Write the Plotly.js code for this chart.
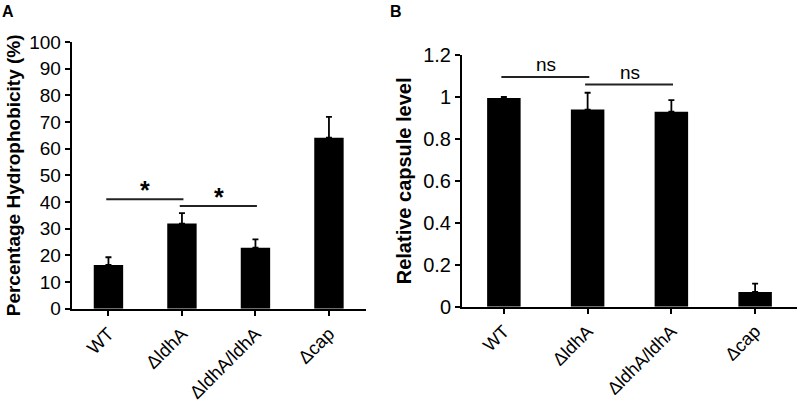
<!DOCTYPE html>
<html>
<head>
<meta charset="utf-8">
<script src="https://cdn.plot.ly/plotly-3.0.1.min.js"></script>
<style>html,body{margin:0;padding:0;background:#fff;}#chart{width:800px;height:402px;}</style>
</head>
<body>
<div id="chart"></div>
<script>
// ---- data ----
const categories = ['WT', 'ΔldhA', 'ΔldhA/ldhA', 'Δcap'];
const hydrophobicity = [16.4, 31.9, 22.9, 64.1];
const hydrophobicityErr = [2.9, 3.9, 3.1, 7.8];
const capsule = [0.995, 0.94, 0.93, 0.07];
const capsuleErr = [0.005, 0.08, 0.055, 0.04];
// significance brackets: [fromIndex, toIndex, yValue, label]
const sigA = [[0, 1, 41, '*'], [1, 2, 38.5, '*']];
const sigB = [[0, 1, 1.095, 'ns'], [1, 2, 1.059, 'ns']];

const FONT = 'Liberation Sans, Arial, Helvetica, sans-serif';
const idx = categories.map((c, i) => i);

const traces = [
  {
    type: 'bar', x: idx, y: hydrophobicity, xaxis: 'x', yaxis: 'y',
    marker: {color: '#000'},
    error_y: {type: 'data', symmetric: false, array: hydrophobicityErr,
              arrayminus: hydrophobicityErr.map(() => 0), color: '#000', thickness: 1.8, width: 3},
    hoverinfo: 'y', showlegend: false
  },
  {
    type: 'bar', x: idx, y: capsule, xaxis: 'x2', yaxis: 'y2',
    marker: {color: '#000'},
    error_y: {type: 'data', symmetric: false, array: capsuleErr,
              arrayminus: capsuleErr.map(() => 0), color: '#000', thickness: 1.8, width: 3},
    hoverinfo: 'y', showlegend: false
  }
];

const xCommon = {
  range: [-0.5, 3.5], tickmode: 'array', tickvals: idx, ticktext: categories,
  tickangle: -45, showline: true, linecolor: '#000', linewidth: 2,
  ticks: 'outside', ticklen: 5, tickwidth: 2, tickcolor: '#000',
  showgrid: false, zeroline: false, fixedrange: true
};
const yCommon = {
  showline: true, linecolor: '#000', linewidth: 2,
  ticks: 'outside', ticklen: 5, tickwidth: 2, tickcolor: '#000',
  showgrid: false, zeroline: false, fixedrange: true
};

const shapes = [];
const annotations = [];
function addSig(list, xref, yref, fontSize, bold) {
  list.forEach(([a, b, yv, label]) => {
    shapes.push({type: 'line', xref: xref, yref: yref, x0: a - 0.03, x1: b + 0.02, y0: yv, y1: yv,
                 line: {color: '#222', width: 2}});
    annotations.push({xref: xref, yref: yref, x: (a + b) / 2, y: yv, text: bold ? '<b>' + label + '</b>' : label,
                      showarrow: false, yanchor: 'bottom', yshift: bold ? -7 : 0,
                      font: {family: FONT, size: fontSize, color: '#000'}});
  });
}
addSig(sigA, 'x', 'y', 25, true);
addSig(sigB, 'x2', 'y2', 19, false);

annotations.push({xref: 'paper', yref: 'paper', x: 0 / 800, y: 1 - 1 / 402, xanchor: 'left', yanchor: 'top',
                  text: '<b>A</b>', showarrow: false, font: {family: FONT, size: 16, color: '#000'}});
annotations.push({xref: 'paper', yref: 'paper', x: 388 / 800, y: 1 - 1 / 402, xanchor: 'left', yanchor: 'top',
                  text: '<b>B</b>', showarrow: false, font: {family: FONT, size: 16, color: '#000'}});

const layout = {
  width: 800, height: 402,
  margin: {l: 0, r: 0, t: 0, b: 0},
  paper_bgcolor: '#fff', plot_bgcolor: '#fff',
  bargap: 0.6,
  font: {family: FONT, color: '#000'},
  xaxis: Object.assign({}, xCommon, {domain: [71.7 / 800, 365.7 / 800], anchor: 'y',
                       tickfont: {family: FONT, size: 18.5, color: '#000'}}),
  yaxis: Object.assign({}, yCommon, {domain: [1 - 308.7 / 402, 1 - 42 / 402], anchor: 'x',
                       range: [0, 100], dtick: 10, tickfont: {family: FONT, size: 19, color: '#000'},
                       title: {text: '<b>Percentage Hydrophobicity (%)</b>', standoff: 4,
                               font: {family: FONT, size: 19, color: '#000'}}}),
  xaxis2: Object.assign({}, xCommon, {domain: [462 / 800, 797 / 800], anchor: 'y2',
                        tickfont: {family: FONT, size: 18, color: '#000'}}),
  yaxis2: Object.assign({}, yCommon, {domain: [1 - 306.7 / 402, 1 - 55 / 402], anchor: 'x2',
                        range: [0, 1.2], dtick: 0.2, tickfont: {family: FONT, size: 20, color: '#000'},
                        title: {text: '<b>Relative capsule level</b>', standoff: 6,
                                font: {family: FONT, size: 20, color: '#000'}}}),
  shapes: shapes,
  annotations: annotations
};

Plotly.newPlot('chart', traces, layout, {displayModeBar: false, staticPlot: true});
</script>
</body>
</html>
